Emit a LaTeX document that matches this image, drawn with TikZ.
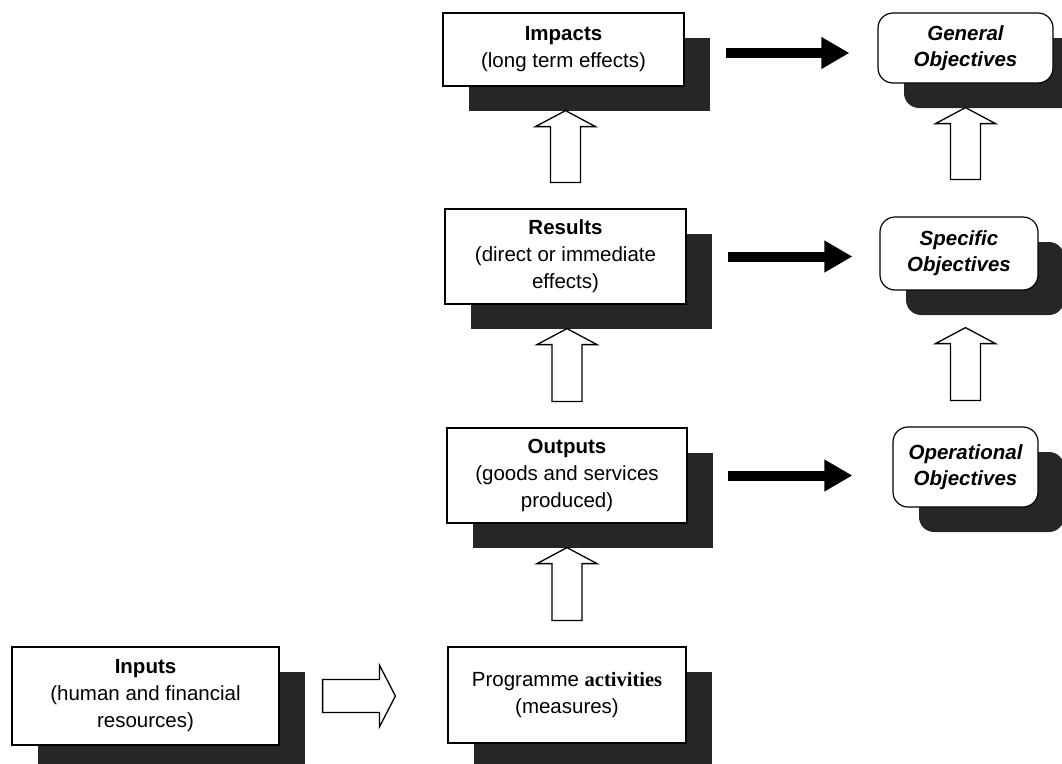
\documentclass[tikz,border=0pt]{standalone}
\usepackage{fontspec}
\setmainfont{Liberation Sans}
\newfontfamily\serifbold{Liberation Serif}
\usetikzlibrary{shadows,arrows.meta,calc}
\begin{document}
\begin{tikzpicture}[x=1pt,y=-1pt,
  box/.style={draw=black, line width=1.2pt, fill=white, align=center, inner sep=0pt,
    font=\fontsize{20.5}{27}\selectfont,
    drop shadow={shadow xshift=26pt, shadow yshift=-25pt, opacity=1, fill=black!85}},
  obj/.style={box, rounded corners=15pt, font=\fontsize{20.5}{26}\selectfont\bfseries\itshape},
  hollowup/.style 2 args={draw=black, line width=1.3pt, fill=white,
    to path={let \p1=(\tikztostart), \p2=(\tikztotarget) in
      (\x1-15pt,\y1+#1) -- (\x1-15pt,\y2-#2-16pt) -- (\x1-30pt,\y2-#2-16pt) -- (\x1,\y2-#2)
      -- (\x1+30pt,\y2-#2-16pt) -- (\x1+15pt,\y2-#2-16pt) -- (\x1+15pt,\y1+#1) -- cycle}},
  hollowright/.style={draw=black, line width=1.3pt, fill=white,
    to path={let \p1=(\tikztostart), \p2=(\tikztotarget) in
      (\x1+43pt,\y1+16.5pt) -- (\x2-68pt,\y1+16.5pt) -- (\x2-68pt,\y1+31pt) -- (\x2-52pt,\y1)
      -- (\x2-68pt,\y1-31pt) -- (\x2-68pt,\y1-16.5pt) -- (\x1+43pt,\y1-16.5pt) -- cycle}},
  blk/.style={line width=10pt, -{Triangle[length=28pt,width=30pt]}}
]
\useasboundingbox (0,0) rectangle (1062,763);
\clip (0,0) rectangle (1062,763);

\node[box, minimum width=241pt, minimum height=73pt] (imp) at (563.5,49.5) {\textbf{Impacts}\\(long term effects)};
\node[box, minimum width=241pt, minimum height=95pt] (res) at (565.5,256.5) {\textbf{Results}\\(direct or immediate\\effects)};
\node[box, minimum width=240pt, minimum height=95pt] (out) at (567,475.5) {\textbf{Outputs}\\(goods and services\\produced)};
\node[box, minimum width=238pt, minimum height=96pt] (act) at (567,695) {Programme {\serifbold\bfseries activities}\\(measures)};
\node[box, minimum width=267pt, minimum height=98pt] (inp) at (145.5,696) {\textbf{Inputs}\\(human and financial\\resources)};

\node[obj, minimum width=175pt, minimum height=70pt] (gen) at (965.5,48) {General\\Objectives};
\node[obj, minimum width=158pt, minimum height=73pt] (spe) at (959,253.5) {Specific\\Objectives};
\node[obj, minimum width=145pt, minimum height=80pt] (ope) at (965.5,467) {Operational\\Objectives};

\draw[hollowup={26pt}{24pt}] (res.north) to (imp.south);
\draw[hollowup={26pt}{24pt}] (out.north) to (res.south);
\draw[hollowup={26pt}{24pt}] (act.north) to (out.south);
\draw[hollowup={37pt}{24pt}] (spe.north -| gen.south) to (gen.south);
\draw[hollowup={26pt}{37pt}] (ope.north) to (spe.south);
\draw[hollowright] (inp.east) to (act.west);

\draw[blk, shorten <=41pt, shorten >=28pt] ([yshift=-3.5pt]imp.east) -- ([yshift=-3.5pt]imp.east -| gen.west);
\draw[blk, shorten <=41pt, shorten >=27pt] (res.east) -- (res.east -| spe.west);
\draw[blk, shorten <=40pt, shorten >=40pt] (out.east) -- (out.east -| ope.west);
\end{tikzpicture}
\end{document}
